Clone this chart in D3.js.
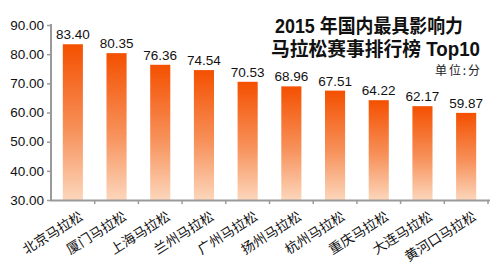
<!DOCTYPE html>
<html><head><meta charset="utf-8">
<script src="https://cdn.jsdelivr.net/npm/d3@7"></script>
<style>
html,body{margin:0;padding:0;background:#fff;}
svg{display:block;}
</style></head>
<body>
<svg id="chart" width="500" height="272"></svg>
<script>
const categories = ["北京马拉松","厦门马拉松","上海马拉松","兰州马拉松","广州马拉松","扬州马拉松","杭州马拉松","重庆马拉松","大连马拉松","黄河口马拉松"];
const values = [83.40, 80.35, 76.36, 74.54, 70.53, 68.96, 67.51, 64.22, 62.17, 59.87];
const yTicks = [30, 40, 50, 60, 70, 80, 90];
const titleLines = ["2015 年国内最具影响力", "马拉松赛事排行榜 Top10"];
const unitLabel = "单位:分";

const svg = d3.select("#chart");
const mLeft = 51, mRight = 488, mTop = 25, mBottom = 200;

const x = d3.scaleBand().domain(categories).range([mLeft, mRight]).paddingInner(0.54).paddingOuter(0.27);
const y = d3.scaleLinear().domain([30, 90]).range([mBottom, mTop]);

const defs = svg.append("defs");
const grad = defs.append("linearGradient").attr("id", "barGrad")
  .attr("x1", 0).attr("y1", 0).attr("x2", 0).attr("y2", 1);
grad.append("stop").attr("offset", "0%").attr("stop-color", "#f45000");
grad.append("stop").attr("offset", "55%").attr("stop-color", "#f7915a");
grad.append("stop").attr("offset", "100%").attr("stop-color", "#fcd6bb");

// bars
svg.append("g").selectAll("rect").data(values).join("rect")
  .attr("x", (d, i) => x(categories[i]))
  .attr("width", x.bandwidth())
  .attr("y", d => y(d))
  .attr("height", d => y(30) - y(d))
  .attr("fill", "url(#barGrad)");

// value labels
svg.append("g").selectAll("text").data(values).join("text")
  .attr("x", (d, i) => x(categories[i]) + x.bandwidth() / 2)
  .attr("y", d => y(d) - 5)
  .attr("text-anchor", "middle")
  .attr("font-family", "Liberation Sans, Arial, sans-serif")
  .attr("font-size", 13.5)
  .attr("fill", "#111")
  .text(d => d.toFixed(2));

// y axis
const yAxis = d3.axisLeft(y).tickValues(yTicks).tickFormat(d3.format(".2f")).tickSize(4).tickPadding(3);
const gy = svg.append("g").attr("transform", `translate(${mLeft},0)`).call(yAxis);
gy.select(".domain").attr("stroke", "#9a9a9a").attr("stroke-width", 2).attr("d", `M0,${mTop - 1}V${mBottom}`);
gy.selectAll(".tick line").attr("stroke", "#9a9a9a").attr("stroke-width", 1.5);
gy.selectAll(".tick text").attr("font-family", "Liberation Sans, Arial, sans-serif").attr("font-size", 13.5).attr("fill", "#111");

// x axis
const step = x.step();
const boundaries = d3.range(1, categories.length + 1).map(i => mLeft + i * step);
const gx = svg.append("g");
gx.append("line").attr("x1", mLeft - 1).attr("x2", mRight + 2).attr("y1", mBottom + 0.5).attr("y2", mBottom + 0.5)
  .attr("stroke", "#9a9a9a").attr("stroke-width", 2);
gx.selectAll("line.tk").data(boundaries).join("line").attr("class", "tk")
  .attr("x1", d => d).attr("x2", d => d).attr("y1", mBottom).attr("y2", mBottom + 4)
  .attr("stroke", "#9a9a9a").attr("stroke-width", 1.5);

// x labels
svg.append("g").selectAll("text").data(categories).join("text")
  .attr("transform", d => `translate(${x(d) + x.bandwidth() / 2 + 11},${mBottom + 19}) rotate(-32)`)
  .attr("text-anchor", "end")
  .attr("font-family", "Noto Sans CJK SC, sans-serif")
  .attr("font-size", 13.5)
  .attr("fill", "#111")
  .text(d => d);

// title
const tg = svg.append("g").attr("font-family", "Liberation Sans, Noto Sans CJK SC, sans-serif").attr("font-weight", "bold").attr("fill", "#111").attr("text-anchor", "start");
tg.append("text").attr("x", 275).attr("y", 33).attr("font-size", 19.5)
  .attr("textLength", 188).attr("lengthAdjust", "spacingAndGlyphs").text(titleLines[0]);
tg.append("text").attr("x", 271).attr("y", 55.5).attr("font-size", 19.5)
  .attr("textLength", 209).attr("lengthAdjust", "spacingAndGlyphs").text(titleLines[1]);

svg.append("text").attr("x", 435).attr("y", 75)
  .attr("font-family", "Noto Sans CJK SC, sans-serif").attr("font-size", 12).attr("fill", "#222")
  .attr("textLength", 45).attr("lengthAdjust", "spacing")
  .text(unitLabel);
</script>
</body></html>
